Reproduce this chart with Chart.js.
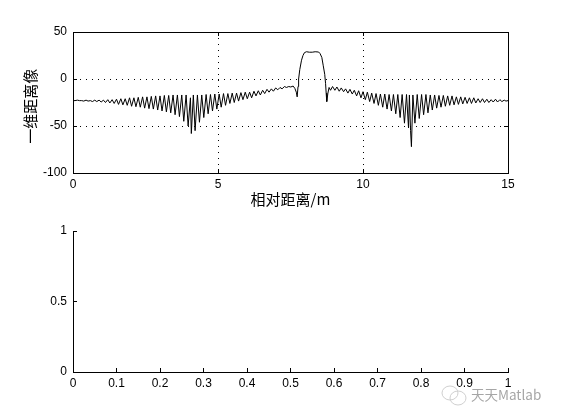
<!DOCTYPE html>
<html>
<head>
<meta charset="utf-8">
<style>
  html, body { margin: 0; padding: 0; background: #fff; }
  body { width: 561px; height: 420px; position: relative; overflow: hidden; }
  canvas { position: absolute; left: 0; }
  #topChart { top: 0; }
  #bottomChart { top: 210px; }
  #mark { position: absolute; left: 471px; top: 386px; color: #a6a6a6; font: 13.5px "Noto Sans CJK SC", "Liberation Sans", sans-serif; line-height: 16px; }
  #markIcon { position: absolute; left: 441px; top: 383px; }
</style>
<script src="https://cdn.jsdelivr.net/npm/chart.js@4"></script>
</head>
<body>
<canvas id="topChart" width="561" height="210"></canvas>
<canvas id="bottomChart" width="561" height="210"></canvas>
<svg id="markIcon" width="28" height="24" fill="none" stroke="#cfcfcf">
  <ellipse cx="9" cy="10" rx="8" ry="7"/>
  <ellipse cx="17" cy="15" rx="8" ry="7"/>
</svg>
<div id="mark">天天Matlab</div>
<script>
// Top plot
const rangeM = [
  0, 0.07, 0.15, 0.22, 0.3, 0.37, 0.45, 0.52, 0.6, 0.67, 0.75, 0.82, 0.9, 0.97, 1.05, 1.12, 1.2, 1.27, 1.35, 1.42,
  1.5, 1.57, 1.65, 1.72, 1.8, 1.87, 1.95, 2.02, 2.1, 2.17, 2.25, 2.32, 2.4, 2.47, 2.55, 2.62, 2.7, 2.77, 2.85, 2.92,
  3, 3.07, 3.15, 3.22, 3.3, 3.37, 3.45, 3.52, 3.6, 3.67, 3.75, 3.82, 3.9, 3.97, 4.05, 4.08, 4.15, 4.21, 4.29, 4.36,
  4.44, 4.51, 4.59, 4.66, 4.74, 4.81, 4.89, 4.96, 5.04, 5.11, 5.19, 5.26, 5.34, 5.41, 5.49, 5.56, 5.64, 5.71, 5.79, 5.86,
  5.94, 6.01, 6.09, 6.16, 6.24, 6.31, 6.39, 6.46, 6.54, 6.61, 6.69, 6.76, 6.84, 6.91, 6.99, 7.06, 7.14, 7.21, 7.29, 7.36,
  7.44, 7.51, 7.59, 7.65, 7.7, 7.73, 7.76, 7.78, 7.82, 7.88, 7.93, 7.98, 8.05, 8.15, 8.25, 8.35, 8.47, 8.52, 8.58, 8.63,
  8.68, 8.71, 8.73, 8.75, 8.79, 8.83, 8.88, 8.95, 9.03, 9.1, 9.18, 9.25, 9.33, 9.4, 9.48, 9.55, 9.63, 9.7, 9.78, 9.85,
  9.93, 10, 10.08, 10.15, 10.23, 10.3, 10.38, 10.45, 10.53, 10.6, 10.68, 10.75, 10.83, 10.9, 10.98, 11.05, 11.13, 11.2, 11.28, 11.35,
  11.43, 11.5, 11.57, 11.6, 11.64, 11.67, 11.72, 11.79, 11.87, 11.94, 12.02, 12.09, 12.17, 12.24, 12.32, 12.39, 12.47, 12.54, 12.62, 12.69,
  12.77, 12.84, 12.92, 12.99, 13.07, 13.14, 13.22, 13.29, 13.37, 13.44, 13.52, 13.59, 13.67, 13.74, 13.82, 13.89, 13.97, 14.04, 14.12, 14.19,
  14.27, 14.34, 14.42, 14.49, 14.57, 14.64, 14.72, 14.79, 14.87, 14.93, 15
];
const profileDb = [
  -23, -23, -22.5, -23, -23, -23.5, -22.5, -23.5, -23, -24, -22.5, -24, -22.5, -24.5, -22.5, -25, -22, -25.5, -22, -26,
  -21.5, -27, -21, -27.5, -21, -28, -20, -29, -20, -29.5, -19.5, -30, -19, -31, -19, -31.5, -18.5, -32, -18, -33,
  -18, -34, -17.5, -35, -17.5, -36, -17, -38, -17, -40, -17, -45, -17, -50, -20, -58, -17, -55, -17, -46,
  -17, -41, -16.5, -37, -16.5, -34, -16, -32, -16, -30, -15.5, -28, -15.5, -26, -15, -25, -15, -23.5, -14.5, -22,
  -14, -21, -14, -20, -13, -18, -12.5, -17, -12, -15.5, -11, -14, -10.5, -13, -9.5, -11.5, -9, -10.5, -8, -9,
  -8, -8.5, -7.5, -10, -14, -19, -8, 0, 10, 20, 25, 28, 29, 28.5, 28.5, 29, 28.7, 27, 23, 14,
  5, -5, -15, -24, -15, -9, -12, -8, -12, -8.5, -13, -9.5, -13.5, -10.5, -15, -11, -16, -12, -18, -12.5,
  -20, -13.5, -22, -14, -24, -15, -26, -15.5, -28, -16, -30, -16, -32, -16.5, -34, -16.5, -37, -16.5, -41, -16.5,
  -47, -16.5, -52, -17, -55, -72, -17, -47, -16.5, -42, -16.5, -38, -16.5, -36, -17, -33, -17, -31, -17.5, -30,
  -17.5, -29, -18, -28, -18, -27.5, -19, -27, -19, -26.5, -19.5, -26, -20, -26, -20, -25.5, -21, -25, -21, -25,
  -21.5, -25, -22, -24.5, -21.5, -24.5, -22, -24, -22.5, -23.5, -23
];
const topXTicks = [0, 5, 10, 15];
const topYTicks = [-100, -50, 0, 50];

// Bottom plot is empty, only the default axes
const bottomXTicks = [0, 0.1, 0.2, 0.3, 0.4, 0.5, 0.6, 0.7, 0.8, 0.9, 1];
const bottomYTicks = [0, 0.5, 1];

const tickFont = { family: "Liberation Sans", size: 12 };
const titleFont = { family: "Noto Sans CJK SC", size: 15 };
const black = "#000";

// Inward ticks like MATLAB: negative tick length, labels pushed back out with padding
function axis(position, values, opts) {
  const horizontal = position === "top" || position === "bottom";
  const scale = {
    type: "linear",
    position: position,
    min: values[0],
    max: values[values.length - 1],
    border: { color: black, width: 1, dash: opts.grid ? [1, 5] : [] },
    grid: {
      display: true,
      drawOnChartArea: !!opts.grid,
      color: black,
      tickColor: black,
      tickLength: -4,
      tickBorderDash: [],
      tickWidth: 1,
    },
    ticks: {
      display: !!opts.labels,
      color: black,
      font: tickFont,
      padding: horizontal ? 8 : 10,
      maxRotation: 0,
      autoSkip: false,
      callback: (v) => v,
    },
    afterBuildTicks: (s) => {
      s.ticks = values.map((v) => ({ value: v }));
    },
    afterFit: (s) => {
      if (horizontal) s.height = opts.size;
      else s.width = opts.size;
    },
  };
  if (opts.title) {
    scale.title = { display: true, text: opts.title, color: black, font: titleFont, padding: opts.titlePadding };
  }
  return scale;
}

new Chart(document.getElementById("topChart"), {
  type: "line",
  data: {
    datasets: [
      {
        data: rangeM.map((x, i) => ({ x: x, y: profileDb[i] })),
        borderColor: black,
        borderWidth: 1,
        pointRadius: 0,
        tension: 0,
        xAxisID: "x",
        yAxisID: "y",
      },
    ],
  },
  options: {
    responsive: false,
    animation: false,
    layout: { padding: { left: 0, top: 32, right: 53, bottom: 0 } },
    plugins: { legend: { display: false }, tooltip: { enabled: false } },
    scales: {
      x: axis("bottom", topXTicks, { grid: true, labels: true, size: 37, title: "相对距离/m", titlePadding: { top: 0, bottom: 2 } }),
      y: axis("left", topYTicks, { grid: true, labels: true, size: 73, title: "一维距离像\u2002", titlePadding: { top: 21, bottom: 0 } }),
      xTop: axis("top", topXTicks, { size: 0 }),
      yRight: axis("right", topYTicks, { size: 0 }),
    },
  },
});

new Chart(document.getElementById("bottomChart"), {
  type: "line",
  data: { datasets: [] },
  options: {
    responsive: false,
    animation: false,
    layout: { padding: { left: 0, top: 21, right: 53, bottom: 0 } },
    plugins: { legend: { display: false }, tooltip: { enabled: false } },
    scales: {
      x: axis("bottom", bottomXTicks, { labels: true, size: 48 }),
      y: axis("left", bottomYTicks, { labels: true, size: 73 }),
    },
  },
});
</script>
</body>
</html>
